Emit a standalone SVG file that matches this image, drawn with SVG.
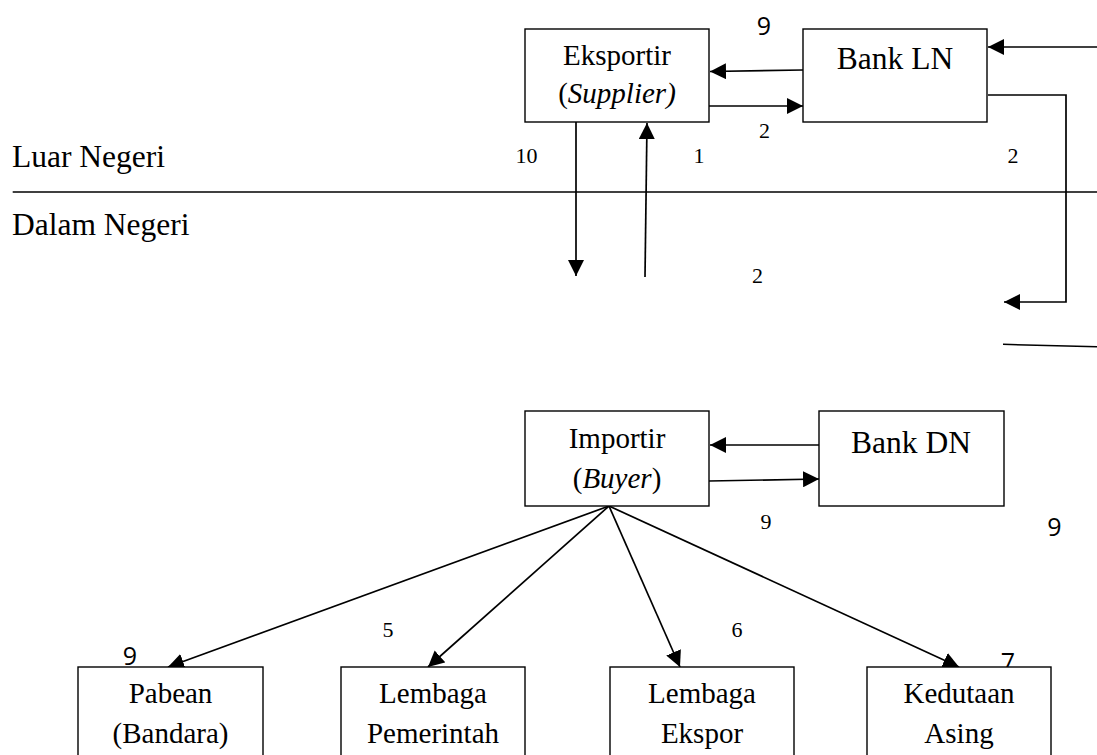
<svg xmlns="http://www.w3.org/2000/svg" width="1097" height="755" viewBox="0 0 1097 755">
<style>
.box{fill:#fff;stroke:#000;stroke-width:1.4}
.t{font-family:"Liberation Serif","Times New Roman",serif;font-size:29px;fill:#000;text-anchor:middle}
.tb{font-family:"Liberation Serif","Times New Roman",serif;font-size:31.5px;fill:#000}
.n{font-family:"Liberation Serif","Times New Roman",serif;font-size:22px;fill:#000;text-anchor:middle}
.s{font-family:"Open Sans","Noto Sans",sans-serif;font-size:25px;fill:#000;text-anchor:middle}
.c{fill:none;stroke:#000;stroke-width:1.7}
</style>
<defs>
<marker id="ah" markerUnits="userSpaceOnUse" markerWidth="16" markerHeight="16" refX="16" refY="8" orient="auto" viewBox="0 0 16 16">
<path d="M0,0 L16,8 L0,16 z" fill="#000"/>
</marker>
</defs>
<rect width="1097" height="755" fill="#fff"/>
<g id="regions">
<text class="tb" x="12" y="167">Luar Negeri</text>
<text class="tb" x="12" y="235">Dalam Negeri</text>
<line x1="12.7" y1="192" x2="1097" y2="192" stroke="#000" stroke-width="1.5"/>
<line x1="1003" y1="344.3" x2="1097" y2="346.7" stroke="#000" stroke-width="1.5"/>
</g>
<g id="connectors">
<path class="c" d="M803,70 L710,71.5" marker-end="url(#ah)"/>
<path class="c" d="M709,106 L803,106" marker-end="url(#ah)"/>
<path class="c" d="M1097,47 L988,47" marker-end="url(#ah)"/>
<path class="c" d="M988,95 H1066 V302 H1004" marker-end="url(#ah)"/>
<path class="c" d="M576,122 V276" marker-end="url(#ah)"/>
<path class="c" d="M645,277 L647,123" marker-end="url(#ah)"/>
<path class="c" d="M819,445 L710,445" marker-end="url(#ah)"/>
<path class="c" d="M709,481 L819,479" marker-end="url(#ah)"/>
<path class="c" d="M609,506 L168,667" marker-end="url(#ah)"/>
<path class="c" d="M609,506 L428,667" marker-end="url(#ah)"/>
<path class="c" d="M609,506 L680,667" marker-end="url(#ah)"/>
<path class="c" d="M609,506 L959,667" marker-end="url(#ah)"/>
</g>
<g id="labels">
<text class="s" x="764" y="35">9</text>
<text class="n" x="526.5" y="163">10</text>
<text class="n" x="699" y="163">1</text>
<text class="n" x="764.5" y="138">2</text>
<text class="n" x="1013" y="163">2</text>
<text class="n" x="757.5" y="283">2</text>
<text class="n" x="766" y="529">9</text>
<text class="s" x="1054.5" y="536">9</text>
<text class="n" x="388" y="637">5</text>
<text class="n" x="737" y="637">6</text>
<text class="s" x="130" y="665">9</text>
<text class="s" x="1008" y="671">7</text>
</g>
<g id="eksportir">
<rect class="box" x="525" y="29" width="184" height="93"/>
<text class="t" x="617" y="65">Eksportir</text>
<text class="t" x="617" y="103">(<tspan font-style="italic">Supplier)</tspan></text>
</g>
<g id="bank-ln">
<rect class="box" x="803" y="29" width="184" height="93"/>
<text class="tb" x="895" y="69" text-anchor="middle">Bank LN</text>
</g>
<g id="importir">
<rect class="box" x="525" y="411" width="184" height="95"/>
<text class="t" x="617" y="448">Importir</text>
<text class="t" x="617" y="488">(<tspan font-style="italic">Buyer</tspan>)</text>
</g>
<g id="bank-dn">
<rect class="box" x="819" y="411" width="185" height="95"/>
<text class="tb" x="911" y="453" text-anchor="middle">Bank DN</text>
</g>
<g id="pabean">
<rect class="box" x="78" y="667" width="185" height="110"/>
<text class="t" x="170.5" y="703">Pabean</text>
<text class="t" x="170.5" y="743">(Bandara)</text>
</g>
<g id="lembaga-pemerintah">
<rect class="box" x="341" y="667" width="184" height="110"/>
<text class="t" x="433" y="703">Lembaga</text>
<text class="t" x="433" y="743">Pemerintah</text>
</g>
<g id="lembaga-ekspor">
<rect class="box" x="610" y="667" width="184" height="110"/>
<text class="t" x="702" y="703">Lembaga</text>
<text class="t" x="702" y="743">Ekspor</text>
</g>
<g id="kedutaan-asing">
<rect class="box" x="867" y="667" width="184" height="110"/>
<text class="t" x="959" y="703">Kedutaan</text>
<text class="t" x="959" y="743">Asing</text>
</g>
</svg>
